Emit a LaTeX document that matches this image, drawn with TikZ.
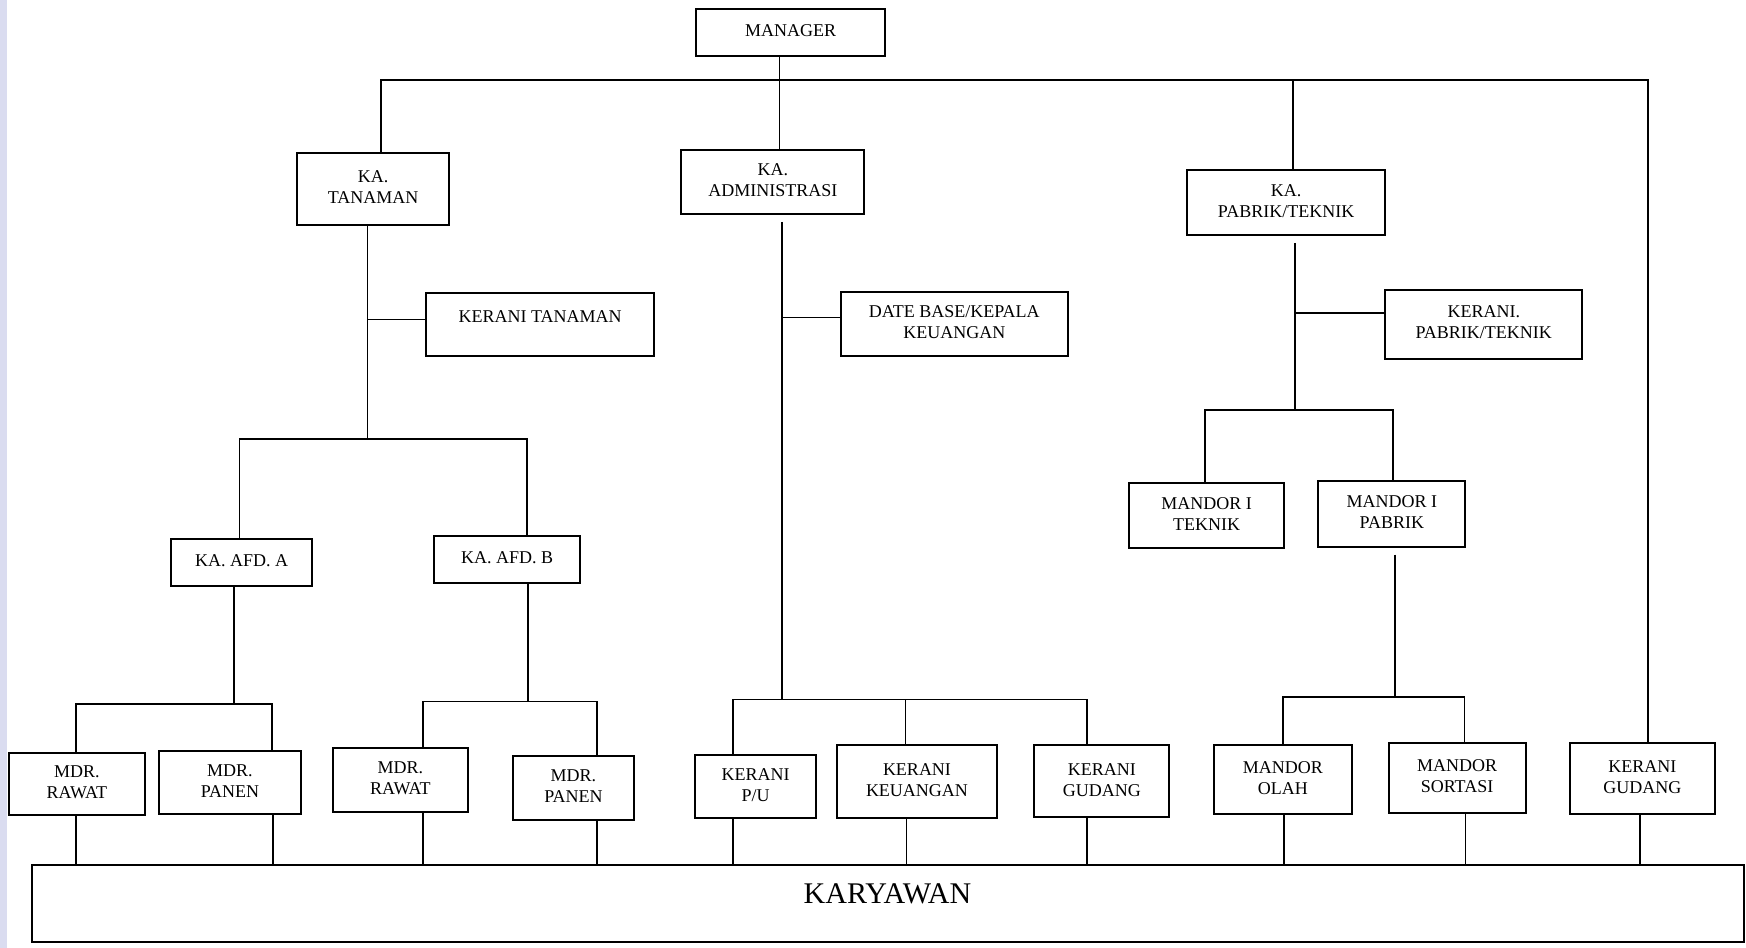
\documentclass[tikz,border=0pt]{standalone}
\usepackage{fontspec}
\setmainfont{Liberation Serif}
\usetikzlibrary{fit}
\definecolor{stripcol}{RGB}{218,220,240}
\tikzset{
  box/.style={draw=black, line width=2pt, inner sep=0pt},
  txt/.style={inner sep=0pt, align=center, font=\fontsize{18}{21}\selectfont},
  boxtxt/.style={txt, yshift=1.5pt},
  conn/.style={draw=black, line width=1.6pt},
}
\begin{document}
\begin{tikzpicture}[x=1.11352pt, y=-1.11352pt]
\useasboundingbox (0,0) rectangle (1568,851);
\fill[stripcol] (0,0) rectangle (6,851);

% boxes
\node[box, fit={(625,8) (795,50)}, label={[boxtxt]center:{MANAGER}}] (mgr) {};
\node[box, fit={(267,137) (403,202)}, label={[boxtxt]center:{KA.\\TANAMAN}}] (tan) {};
\node[box, fit={(612,135) (776,192)}, label={[boxtxt]center:{KA.\\ADMINISTRASI}}] (adm) {};
\node[box, fit={(1066,153) (1244,211)}, label={[boxtxt]center:{KA.\\PABRIK/TEKNIK}}] (pab) {};
\node[box, fit={(383,263) (587,320)}] (ktn) {};
\node[txt] (ktntext) at (485,284) {KERANI TANAMAN};
\node[box, fit={(755,262) (959,320)}, label={[boxtxt]center:{DATE BASE/KEPALA\\KEUANGAN}}] (dbk) {};
\node[box, fit={(1244,260) (1421,322)}, label={[boxtxt]center:{KERANI.\\PABRIK/TEKNIK}}] (kpt) {};
\node[box, fit={(154,484) (280,526)}, label={[boxtxt]center:{KA. AFD. A}}] (afa) {};
\node[box, fit={(390,481) (521,524)}, label={[boxtxt]center:{KA. AFD. B}}] (afb) {};
\node[box, fit={(1014,434) (1153,492)}, label={[boxtxt]center:{MANDOR I\\TEKNIK}}] (mit) {};
\node[box, fit={(1184,432) (1316,491)}, label={[boxtxt]center:{MANDOR I\\PABRIK}}] (mip) {};
\node[box, fit={(8,676) (130,732)}, label={[boxtxt]center:{MDR.\\RAWAT}}] (mr1) {};
\node[box, fit={(143,674) (270,731)}, label={[boxtxt]center:{MDR.\\PANEN}}] (mp1) {};
\node[box, fit={(299,672) (420,729)}, label={[boxtxt]center:{MDR.\\RAWAT}}] (mr2) {};
\node[box, fit={(461,679) (569,736)}, label={[boxtxt]center:{MDR.\\PANEN}}] (mp2) {};
\node[box, fit={(624,678) (733,735)}, label={[boxtxt]center:{KERANI\\P/U}}] (kpu) {};
\node[box, fit={(752,669) (895,735)}, label={[boxtxt]center:{KERANI\\KEUANGAN}}] (kku) {};
\node[box, fit={(929,669) (1050,734)}, label={[boxtxt]center:{KERANI\\GUDANG}}] (kgd) {};
\node[box, fit={(1090,669) (1214,731)}, label={[boxtxt]center:{MANDOR\\OLAH}}] (mol) {};
\node[box, fit={(1247,667) (1370,730)}, label={[boxtxt]center:{MANDOR\\SORTASI}}] (mso) {};
\node[box, fit={(1410,667) (1540,731)}, label={[boxtxt]center:{KERANI\\GUDANG}}] (kgr) {};
\node[box, fit={(29,777) (1566,846)}] (kar) {};
\node[txt, font=\fontsize{30}{36}\selectfont] (kartext) at (797,803) {KARYAWAN};

% bus coordinates
\coordinate (tL) at (342,72);
\coordinate (tR) at (1480,72);
\coordinate (tM) at (700,72);
\coordinate (tP) at (1161,72);
\coordinate (vT) at (330,394);
\coordinate (cT) at (330,287);
\coordinate (aA) at (215,394);
\coordinate (aB) at (473,394);
\coordinate (dA) at (210,632);
\coordinate (r1) at (68,632);
\coordinate (p1) at (244,632);
\coordinate (dB) at (474,630);
\coordinate (r2) at (380,630);
\coordinate (p2) at (536,630);
\coordinate (vA) at (702,628);
\coordinate (cA) at (702,285);
\coordinate (u1) at (658,628);
\coordinate (u2) at (813,628);
\coordinate (u3) at (976,628);
\coordinate (vP) at (1163,368);
\coordinate (cP) at (1163,281);
\coordinate (m1) at (1082,368);
\coordinate (m2) at (1251,368);
\coordinate (dP) at (1253,626);
\coordinate (o1) at (1152,626);
\coordinate (o2) at (1315,626);

% connectors
\draw[conn] (tan.north -| tL) |- (tR) -- (tR |- kgr.north);
\draw[conn] (mgr.south -| tM) -- (adm.north -| tM);
\draw[conn] (tP) -- (tP |- pab.north);

\draw[conn] (tan.south -| vT) -- (vT);
\draw[conn] (cT) -- (cT -| ktn.west);
\draw[conn] (afa.north -| aA) -- (aA) -- (aB) -- (afb.north -| aB);
\draw[conn] (afa.south -| dA) -- (dA);
\draw[conn] (mr1.north -| r1) -- (r1) -- (p1) -- (mp1.north -| p1);
\draw[conn] (afb.south -| dB) -- (dB);
\draw[conn] (mr2.north -| r2) -- (r2) -- (p2) -- (mp2.north -| p2);

\draw[conn, shorten <=7pt] (adm.south -| vA) -- (vA);
\draw[conn] (cA) -- (cA -| dbk.west);
\draw[conn] (kpu.north -| u1) -- (u1) -- (u3) -- (kgd.north -| u3);
\draw[conn] (u2) -- (u2 |- kku.north);

\draw[conn, shorten <=7pt] (pab.south -| vP) -- (vP);
\draw[conn] (cP) -- (cP -| kpt.west);
\draw[conn] (mit.north -| m1) -- (m1) -- (m2) -- (mip.north -| m2);
\draw[conn, shorten <=7pt] (mip.south -| dP) -- (dP);
\draw[conn] (mol.north -| o1) -- (o1) -- (o2) -- (mso.north -| o2);

% to KARYAWAN
\foreach \n/\x in {mr1/68, mp1/245, mr2/380, mp2/536, kpu/658, kku/814, kgd/976, mol/1153, mso/1316, kgr/1473}
  \draw[conn] (\n.south -| \x,0) -- (kar.north -| \x,0);
\end{tikzpicture}
\end{document}
